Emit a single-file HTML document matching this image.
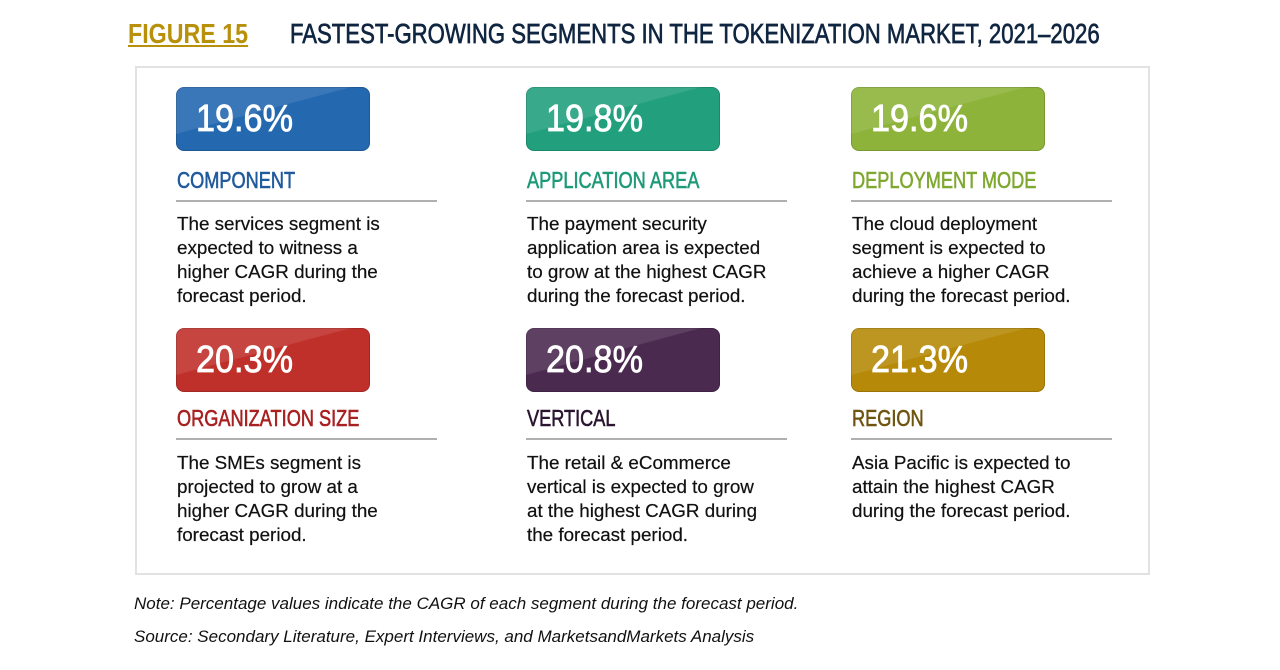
<!DOCTYPE html>
<html><head><meta charset="utf-8"><style>
body{margin:0;width:1280px;height:670px;background:#fff;position:relative;overflow:hidden;font-family:"Liberation Sans",sans-serif}
.a{position:absolute;white-space:nowrap;transform-origin:0 0}
.box{position:absolute;width:194px;height:64px;border-radius:8px;color:#fff;box-sizing:border-box;overflow:hidden;box-shadow:inset 0 0 0 1px rgba(0,0,0,.15)}
.box span{position:absolute;left:20px;top:0;font-size:38px;line-height:64px;transform:scaleX(0.9);transform-origin:0 0;z-index:1;-webkit-text-stroke:0.8px #fff}
.box::after{content:"";position:absolute;left:0;top:0;width:100%;height:100%;background:linear-gradient(165deg,rgba(255,255,255,.1) 40%,rgba(255,255,255,0) 41%)}
.h{position:absolute;font-size:23px;white-space:nowrap;transform:scaleX(0.79);transform-origin:0 0;-webkit-text-stroke:0.6px currentColor}
.rule{position:absolute;width:261px;height:2px;background:#b0b0b0}
.t{position:absolute;font-size:18px;line-height:24px;color:#111;white-space:nowrap;transform:scaleX(1.045);transform-origin:0 0;-webkit-text-stroke:0.2px #111}
</style></head><body>
<div class="a" style="left:128px;top:18px;font-size:28px;color:#b8900a;text-decoration:underline;font-weight:bold;transform:scaleX(0.83)">FIGURE 15</div>
<div class="a" style="left:290px;top:18px;font-size:28px;color:#0f2540;transform:scaleX(0.79);-webkit-text-stroke:0.7px #0f2540">FASTEST-GROWING SEGMENTS IN THE TOKENIZATION MARKET, 2021–2026</div>
<div style="position:absolute;left:135px;top:66px;width:1011px;height:505px;border:2px solid #e2e2e2"></div>

<div class="box" style="left:176px;top:87px;background:#2468b0"><span>19.6%</span></div>
<div class="h" style="left:177px;top:167px;color:#1f5a9c">COMPONENT</div>
<div class="rule" style="left:176px;top:200px"></div>
<div class="t" style="left:177px;top:212px">The services segment is<br>expected to witness a<br>higher CAGR during the<br>forecast period.</div>

<div class="box" style="left:526px;top:87px;background:#22a07e"><span>19.8%</span></div>
<div class="h" style="left:527px;top:167px;color:#1e9a78">APPLICATION AREA</div>
<div class="rule" style="left:526px;top:200px"></div>
<div class="t" style="left:527px;top:212px">The payment security<br>application area is expected<br>to grow at the highest CAGR<br>during the forecast period.</div>

<div class="box" style="left:851px;top:87px;background:#8db33a"><span>19.6%</span></div>
<div class="h" style="left:852px;top:167px;color:#7fa830">DEPLOYMENT MODE</div>
<div class="rule" style="left:851px;top:200px"></div>
<div class="t" style="left:852px;top:212px">The cloud deployment<br>segment is expected to<br>achieve a higher CAGR<br>during the forecast period.</div>

<div class="box" style="left:176px;top:328px;background:#c0302a"><span>20.3%</span></div>
<div class="h" style="left:177px;top:405px;color:#a82020">ORGANIZATION SIZE</div>
<div class="rule" style="left:176px;top:438px"></div>
<div class="t" style="left:177px;top:451px">The SMEs segment is<br>projected to grow at a<br>higher CAGR during the<br>forecast period.</div>

<div class="box" style="left:526px;top:328px;background:#4b2a50"><span>20.8%</span></div>
<div class="h" style="left:527px;top:405px;color:#2a1530">VERTICAL</div>
<div class="rule" style="left:526px;top:438px"></div>
<div class="t" style="left:527px;top:451px">The retail &amp; eCommerce<br>vertical is expected to grow<br>at the highest CAGR during<br>the forecast period.</div>

<div class="box" style="left:851px;top:328px;background:#b68a08"><span>21.3%</span></div>
<div class="h" style="left:852px;top:405px;color:#6e5410">REGION</div>
<div class="rule" style="left:851px;top:438px"></div>
<div class="t" style="left:852px;top:451px">Asia Pacific is expected to<br>attain the highest CAGR<br>during the forecast period.</div>

<div class="a" style="left:134px;top:594px;font-size:17px;font-style:italic;color:#111">Note: Percentage values indicate the CAGR of each segment during the forecast period.</div>
<div class="a" style="left:134px;top:627px;font-size:17px;font-style:italic;color:#111">Source: Secondary Literature, Expert Interviews, and MarketsandMarkets Analysis</div>
</body></html>
